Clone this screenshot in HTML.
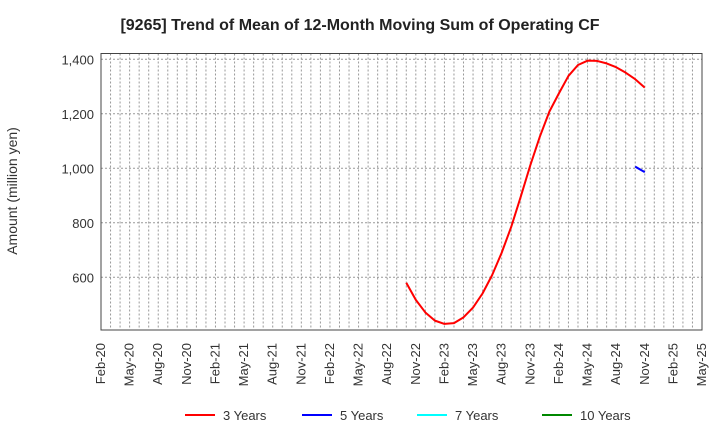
<!DOCTYPE html>
<html><head><meta charset="utf-8"><style>
body{margin:0;background:#fff;font-family:"Liberation Sans",Arial,sans-serif;}
svg text{font-family:"Liberation Sans",Arial,sans-serif;}
</style></head><body>
<svg id="chart" width="720" height="440" viewBox="0 0 720 440">
<text x="360" y="30" text-anchor="middle" font-size="16" font-weight="bold" fill="#222">[9265]  Trend of Mean of 12-Month Moving Sum of Operating CF</text>
<g id="grid"></g>
<rect x="101" y="53.5" width="601" height="276.5" fill="none" stroke="#444" stroke-width="1"/>
<g id="yticks"></g><g id="xticks"></g><g id="series"></g>
<text transform="translate(17,191) rotate(-90)" text-anchor="middle" font-size="14" fill="#333">Amount (million yen)</text>
<g>
<g><line x1="185" y1="415" x2="215" y2="415" stroke="#f00" stroke-width="2"/><text x="223" y="420" font-size="13" fill="#333">3 Years</text></g>
<g><line x1="302" y1="415" x2="332" y2="415" stroke="#00f" stroke-width="2"/><text x="340" y="420" font-size="13" fill="#333">5 Years</text></g>
<g><line x1="417" y1="415" x2="447" y2="415" stroke="#0ff" stroke-width="2"/><text x="455" y="420" font-size="13" fill="#333">7 Years</text></g>
<g><line x1="542" y1="415" x2="572" y2="415" stroke="#080" stroke-width="2"/><text x="580" y="420" font-size="13" fill="#333">10 Years</text></g>
</g>
</svg>
<script>
const xTickLabels=["Feb-20","May-20","Aug-20","Nov-20","Feb-21","May-21","Aug-21","Nov-21","Feb-22","May-22","Aug-22","Nov-22","Feb-23","May-23","Aug-23","Nov-23","Feb-24","May-24","Aug-24","Nov-24","Feb-25","May-25"];
const yTicks=[600,800,1000,1200,1400];
const threeYearStart=32; // months after Feb-20 (Oct-22)
const threeYear=[580,517,471,441,429,432,453,489,541,608,690,785,896,1011,1116,1208,1275,1339,1379,1395,1394,1385,1371,1351,1327,1296];
const fiveYearStart=56; // Oct-24
const fiveYear=[1006,986];
const NS="http://www.w3.org/2000/svg";
const X0=101,X1=702,Y0=53.5,Y1=330,MONTHS=63;
const x=m=>X0+(X1-X0)*m/MONTHS;
const y=v=>277.3-(v-600)*54.5/200;
function mk(tag,attrs,parent){const e=document.createElementNS(NS,tag);for(const k in attrs)e.setAttribute(k,attrs[k]);parent.appendChild(e);return e;}
const grid=document.getElementById('grid');
for(let m=1;m<MONTHS;m++){
 const l=mk('line',{x1:x(m),x2:x(m),y1:Y0,y2:Y1,stroke:'#999','stroke-width':1,'stroke-dasharray':'2,2'},grid);
 
 
}
const yt=document.getElementById('yticks');
yTicks.forEach(v=>{
 const l=mk('line',{x1:X0,x2:X1,y1:y(v),y2:y(v),stroke:'#999','stroke-width':1,'stroke-dasharray':'2,2'},grid);
 
 
 const t=mk('text',{x:94,y:y(v)+5,'text-anchor':'end','font-size':13,fill:'#333'},yt);
 t.textContent=v.toLocaleString('en-US');
 
 
});
const xt=document.getElementById('xticks');
xTickLabels.forEach((s,i)=>{
 const t=mk('text',{transform:`translate(${x(i*3)+4},343) rotate(-90)`,'text-anchor':'end','font-size':13,fill:'#333'},xt);
 t.textContent=s;
 
 
});
const sg=document.getElementById('series');
function line(vals,start,color,name){
 const p=mk('polyline',{points:vals.map((v,i)=>x(start+i)+','+y(v)).join(' '),fill:'none',stroke:color,'stroke-width':2,'stroke-linejoin':'round'},sg);
 
 
}
line(threeYear,threeYearStart,'#f00','series-3-years');
line(fiveYear,fiveYearStart,'#00f','series-5-years');
</script>
</body></html>
